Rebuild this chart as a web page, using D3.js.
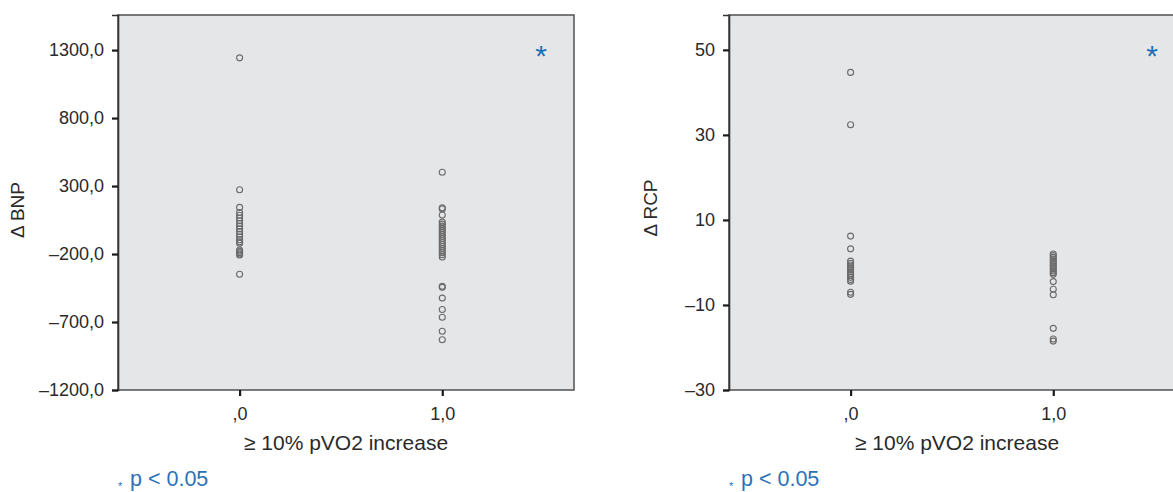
<!DOCTYPE html>
<html>
<head>
<meta charset="utf-8">
<script src="https://cdn.jsdelivr.net/npm/d3@7"></script>
<style>
  html, body { margin: 0; padding: 0; background: #fff; }
  svg { display: block; font-family: "Liberation Sans", Arial, Helvetica, sans-serif; }
</style>
</head>
<body>
<svg id="chart" width="1173" height="492"></svg>
<script>
// Group codes on the x axis and their printed labels
const categories = [0, 1];
const categoryLabels = [",0", "1,0"];
const xTitle = "\u2265 10% pVO2 increase";

// Change in BNP per patient, by group
const bnpNoIncrease = [1243, 273, 143, 106, 85, 65, 45, 25, 5, -15, -35, -55, -75, -95, -110, -120,
  -170, -180, -190, -200, -207, -349];
const bnpIncrease = [401, 140, 132, 87, 35, 20, 5, -10, -25, -40, -55, -70, -85, -100, -115, -130,
  -145, -160, -175, -190, -205, -222, -437, -445, -524, -608, -665, -768, -830];
const bnpTicks = [-1200, -700, -200, 300, 800, 1300];

// Change in RCP per patient, by group
const rcpNoIncrease = [44.7, 32.4, 6.2, 3.2, 0.3, -0.2, -0.6, -1.0, -1.4, -1.8, -2.2, -2.6, -3.0,
  -3.5, -4.0, -4.4, -7.0, -7.5];
const rcpIncrease = [2.0, 1.6, 1.2, 0.8, 0.4, 0.0, -0.4, -0.8, -1.2, -1.6, -2.0, -2.4, -2.8,
  -4.5, -6.3, -7.6, -15.5, -18.0, -18.5];
const rcpTicks = [-30, -10, 10, 30, 50];

const svg = d3.select("#chart");

function panel(cfg) {
  const g = svg.append("g").attr("transform", `translate(${cfg.left},${cfg.top})`);
  const w = cfg.width, h = cfg.height;

  const x = d3.scaleLinear().domain([-0.6, 1.65]).range([0, w]);
  const y = d3.scaleLinear().domain(cfg.yDomain).range([h, 0]);

  // plot area
  g.append("rect")
    .attr("x", 0).attr("y", 0).attr("width", w).attr("height", h)
    .attr("fill", "#e5e6e8")
    .attr("stroke", "#5a5a5a").attr("stroke-width", 1.6);

  // y axis
  const yAxis = d3.axisLeft(y)
    .tickValues(cfg.yTicks)
    .tickSize(6).tickPadding(8)
    .tickFormat(cfg.yFormat);
  const ya = g.append("g").call(yAxis);
  ya.select(".domain").attr("stroke", "#333").attr("stroke-width", 1.6);
  ya.selectAll(".tick line").attr("stroke", "#1a1a1a").attr("stroke-width", 2.2);
  ya.selectAll(".tick text").attr("fill", "#2a2a2a").style("font-size", "18px");

  // x axis
  const xAxis = d3.axisBottom(x)
    .tickValues(categories)
    .tickSize(6).tickPadding(11)
    .tickFormat((d, i) => categoryLabels[i]);
  const xa = g.append("g").attr("transform", `translate(0,${h})`).call(xAxis);
  xa.select(".domain").remove();
  xa.selectAll(".tick line").attr("stroke", "#1a1a1a").attr("stroke-width", 2.2);
  xa.selectAll(".tick text").attr("fill", "#2a2a2a").style("font-size", "18px");

  // x title
  g.append("text")
    .attr("x", w / 2).attr("y", h + 60)
    .attr("text-anchor", "middle")
    .attr("fill", "#2a2a2a").style("font-size", "21px")
    .text(xTitle);

  // y title
  g.append("text")
    .attr("transform", `translate(${cfg.yTitleX},${cfg.yTitleY}) rotate(-90)`)
    .attr("text-anchor", "middle")
    .attr("fill", "#2a2a2a").style("font-size", "19px")
    .text(cfg.yTitle);

  // points
  const pts = [];
  cfg.groups.forEach((vals, i) => vals.forEach(v => pts.push({ c: categories[i], v })));
  g.append("g").selectAll("circle").data(pts).join("circle")
    .attr("cx", d => x(d.c)).attr("cy", d => y(d.v)).attr("r", 3)
    .attr("fill", "none").attr("stroke", "#6b6b6b").attr("stroke-width", 1.1);

  // significance marker
  g.append("text")
    .attr("x", w - 33).attr("y", 51)
    .attr("text-anchor", "middle")
    .attr("fill", "#1f6fb6").style("font-size", "30px")
    .text("*");

  // footnote
  g.append("text")
    .attr("x", 0).attr("y", h + 100)
    .attr("fill", "#2a72b8").style("font-size", "11px")
    .text("*");
  g.append("text")
    .attr("x", 12).attr("y", h + 96)
    .attr("fill", "#2a72b8").style("font-size", "21.5px")
    .text("p < 0.05");
}

const commaFmt = d => (d < 0 ? "\u2013" : "") + Math.abs(d).toFixed(1).replace(".", ",");
const intFmt = d => (d < 0 ? "\u2013" : "") + Math.abs(d);

panel({
  left: 118, top: 15, width: 456, height: 375,
  yDomain: [-1200, 1558], yTicks: bnpTicks, yFormat: commaFmt,
  yTitle: "\u0394 BNP", yTitleX: -94, yTitleY: 195,
  groups: [bnpNoIncrease, bnpIncrease]
});

panel({
  left: 729, top: 15, width: 456, height: 375,
  yDomain: [-30, 58.2], yTicks: rcpTicks, yFormat: intFmt,
  yTitle: "\u0394 RCP", yTitleX: -72, yTitleY: 193,
  groups: [rcpNoIncrease, rcpIncrease]
});
</script>
</body>
</html>
